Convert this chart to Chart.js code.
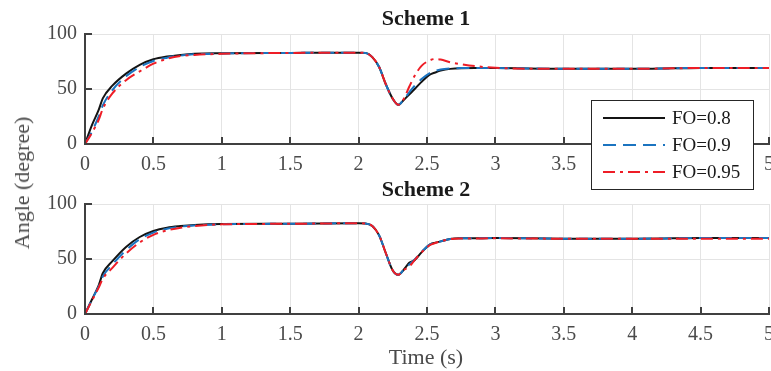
<!DOCTYPE html>
<html>
<head>
<meta charset="utf-8">
<script src="https://cdn.jsdelivr.net/npm/chart.js@4.4.1/dist/chart.umd.min.js"></script>
<style>
  html, body { margin: 0; padding: 0; background: #fff; }
  #wrap { position: relative; width: 771px; height: 371px; overflow: hidden; }
  #wrap canvas { position: absolute; left: 0; top: 0; }
  .lbl {
    position: absolute;
    font-family: 'Liberation Serif', 'Times New Roman', serif;
    line-height: 1;
    white-space: nowrap;
    transform: translate(-50%, -50%);
  }
  .ttl { font-size: 22px; font-weight: bold; color: #1a1a1a; }
  .axl { font-size: 22px; color: #4a4a4a; }
</style>
</head>
<body>
<div id="wrap">
  <canvas id="bottom-chart" width="771" height="371"></canvas>
  <canvas id="top-chart" width="771" height="371"></canvas>
  <div class="lbl ttl" style="left:426px; top:18px;">Scheme 1</div>
  <div class="lbl ttl" style="left:426px; top:189px;">Scheme 2</div>
  <div class="lbl axl" style="left:22px; top:183px; transform: translate(-50%, -50%) rotate(-90deg);">Angle (degree)</div>
  <div class="lbl axl" style="left:426px; top:357px;">Time (s)</div>
</div>

<script>
// ── DATA ──────────────────────────────────
const timeS = [0, 0.05, 0.1, 0.13, 0.2, 0.3, 0.4, 0.5, 0.6, 0.7, 0.8, 1.0, 1.5, 2.0,
  2.05, 2.1, 2.15, 2.2, 2.25, 2.29, 2.33, 2.37, 2.41, 2.46, 2.52, 2.56, 2.6, 2.67,
  2.75, 2.85, 3.0, 3.5, 4.0, 4.3, 4.5, 5.0];

const seriesLabels = ['FO=0.8', 'FO=0.9', 'FO=0.95'];
const xTicks = [0, 0.5, 1, 1.5, 2, 2.5, 3, 3.5, 4, 4.5, 5];
const yTicks = [0, 50, 100];

// Scheme 1
const s1Fo08 = [0, 17, 31, 41.5, 53, 64, 72, 77, 79.5, 81, 82, 82.5, 82.8, 83,
  82.8, 79, 70, 54, 41, 35.6, 40, 45, 50, 56.5, 63, 65, 66.7, 68.3,
  68.9, 69, 69, 68.3, 68.3, 68.8, 69.2, 69.2];
const s1Fo09 = [0, 11, 25, 35, 49, 61.5, 70, 75.5, 78.5, 80.5, 81.5, 82.3, 82.8, 83,
  82.8, 79, 70, 54, 41, 35.6, 40.5, 47, 53, 59, 64.5, 66.5, 67.7, 68.6,
  69, 69, 69, 68.3, 68.3, 68.8, 69.2, 69.2];
const s1Fo095 = [0, 10, 22, 32, 46, 58, 66, 73, 77.5, 80, 81, 82, 82.8, 83,
  82.8, 79, 70, 54, 41, 35.6, 41, 52, 62, 71, 76, 77.3, 76.8, 74.3,
  72.5, 70.8, 69.3, 68.3, 68.3, 68.8, 69.2, 69.2];

// Scheme 2
const s2Fo08 = [0, 13, 26, 37, 48, 61, 70, 75.5, 78.5, 80, 81, 81.8, 82, 82.5,
  82.3, 80, 71.5, 55, 39.5, 35.6, 40.2, 46.5, 49, 56, 63, 64.8, 66, 68.2,
  68.8, 68.9, 69, 68.5, 68.5, 68.8, 69.1, 69.1];
const s2Fo09 = [0, 13, 25, 34, 45, 58, 68, 74, 77.5, 79.5, 80.5, 81.6, 82, 82.5,
  82.3, 80, 71.5, 55, 39.5, 35.6, 40.2, 45, 49.5, 56.5, 63, 64.8, 66, 68.2,
  68.8, 68.9, 69, 68.5, 68.5, 68.8, 69.1, 69.1];
const s2Fo095 = [0, 12, 24, 32, 42, 55, 65, 72, 76, 78.5, 80, 81.5, 82, 82.5,
  82.3, 80, 71.5, 55, 39.5, 35.6, 40, 43, 49, 56, 62.5, 64.5, 66, 68,
  68.6, 68.7, 68.8, 68.4, 68.3, 68.4, 68.3, 68.3];

// ── STYLE ─────────────────────────────────
const FONT = "'Liberation Serif', 'Times New Roman', serif";
const AXIS_COLOR = '#404040';
const TICK_TEXT = '#4a4a4a';
const GRID_COLOR = '#e4e4e4';

const lineStyles = [
  { color: '#141414', dash: [] },
  { color: '#1b74c0', dash: [13, 7] },
  { color: '#ee1d26', dash: [12, 5, 3, 5] }
];

// inward tick marks (MATLAB style)
const innerTicks = {
  id: 'innerTicks',
  afterDatasetsDraw(chart) {
    const { ctx, chartArea, scales } = chart;
    ctx.save();
    ctx.strokeStyle = AXIS_COLOR;
    ctx.lineWidth = 2;
    ctx.beginPath();
    xTicks.forEach(v => {
      const px = Math.round(scales.x.getPixelForValue(v));
      ctx.moveTo(px, chartArea.bottom);
      ctx.lineTo(px, chartArea.bottom - 7);
    });
    yTicks.forEach(v => {
      const py = Math.round(scales.y.getPixelForValue(v));
      ctx.moveTo(chartArea.left, py);
      ctx.lineTo(chartArea.left + 7, py);
    });
    ctx.stroke();
    ctx.restore();
  }
};

// boxed legend that sits over the lower right of the top plot
const boxLegend = {
  id: 'boxLegend',
  afterDraw(chart, args, opts) {
    if (!opts.show) return;
    const { ctx, chartArea } = chart;
    const w = 162, h = 89;
    const x0 = chartArea.right - 16 - w;
    const y0 = chartArea.top + 66;
    ctx.save();
    ctx.fillStyle = '#fff';
    ctx.fillRect(x0, y0, w, h);
    ctx.strokeStyle = '#262626';
    ctx.lineWidth = 1;
    ctx.strokeRect(x0 + 0.5, y0 + 0.5, w, h);
    ctx.font = '19px ' + FONT;
    ctx.textBaseline = 'middle';
    ctx.fillStyle = '#1a1a1a';
    // list entries in series order (datasets are stored reversed)
    seriesLabels.forEach((name, i) => {
      const ds = chart.data.datasets.find(d => d.label === name);
      const y = y0 + 18 + i * 27;
      ctx.strokeStyle = ds.borderColor;
      ctx.lineWidth = 2;
      ctx.setLineDash(ds.borderDash || []);
      ctx.beginPath();
      ctx.moveTo(x0 + 12, y);
      ctx.lineTo(x0 + 74, y);
      ctx.stroke();
      ctx.setLineDash([]);
      ctx.fillText(name, x0 + 81, y + 1);
    });
    ctx.restore();
  }
};

function buildDatasets(seriesList) {
  // reversed so the red curve ends up painted on top
  return seriesList.map((vals, i) => ({
    label: seriesLabels[i],
    data: timeS.map((t, k) => ({ x: t, y: vals[k] })),
    borderColor: lineStyles[i].color,
    borderDash: lineStyles[i].dash,
    borderWidth: 2,
    pointRadius: 0,
    fill: false,
    cubicInterpolationMode: 'monotone',
    clip: 4
  })).reverse();
}

function makeChart(canvasId, seriesList, padTop, padBottom, showLegend) {
  const datasets = buildDatasets(seriesList);
  return new Chart(document.getElementById(canvasId), {
    type: 'line',
    data: { datasets },
    options: {
      responsive: false,
      animation: false,
      layout: { padding: { left: 0, right: 2, top: padTop, bottom: padBottom } },
      plugins: {
        legend: { display: false },
        tooltip: { enabled: false },
        boxLegend: { show: showLegend }
      },
      scales: {
        x: {
          type: 'linear',
          min: 0, max: 5,
          afterBuildTicks: s => { s.ticks = xTicks.map(v => ({ value: v })); },
          afterFit: s => { s.height = 30; s.paddingLeft = 0; s.paddingRight = 0; },
          ticks: {
            color: TICK_TEXT,
            font: { family: FONT, size: 20 },
            padding: 9,
            maxRotation: 0,
            callback: v => String(v)
          },
          grid: { color: GRID_COLOR, lineWidth: 1, drawTicks: false },
          border: { color: AXIS_COLOR, width: 2 }
        },
        y: {
          min: 0, max: 100,
          afterBuildTicks: s => { s.ticks = yTicks.map(v => ({ value: v })); },
          afterFit: s => { s.width = 85; s.paddingTop = 0; s.paddingBottom = 0; },
          ticks: {
            color: TICK_TEXT,
            font: { family: FONT, size: 20 },
            padding: 8
          },
          grid: { color: GRID_COLOR, lineWidth: 1, drawTicks: false },
          border: { color: AXIS_COLOR, width: 2 }
        }
      }
    },
    plugins: [innerTicks, boxLegend]
  });
}

const bottomChart = makeChart('bottom-chart', [s2Fo08, s2Fo09, s2Fo095], 204, 27, false);
const topChart = makeChart('top-chart', [s1Fo08, s1Fo09, s1Fo095], 34, 197, true);
</script>
</body>
</html>
